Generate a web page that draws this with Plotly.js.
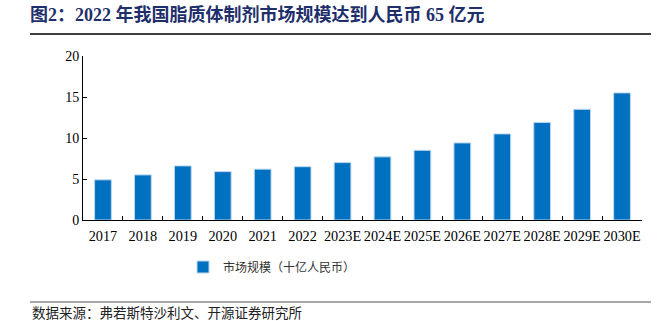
<!DOCTYPE html>
<html>
<head>
<meta charset="utf-8">
<script src="https://cdn.plot.ly/plotly-3.0.1.min.js"></script>
<style>html,body{margin:0;padding:0;background:#fff;}#chart{width:665px;height:321px;}</style>
</head>
<body>
<div id="chart"></div>
<script>
const years = ["2017","2018","2019","2020","2021","2022","2023E","2024E","2025E","2026E","2027E","2028E","2029E","2030E"];
const marketSize = [4.9,5.5,6.6,5.9,6.2,6.5,7.0,7.7,8.5,9.4,10.5,11.9,13.5,15.5];
const seriesName = "市场规模（十亿人民币）";
const titleText = "图2：2022 年我国脂质体制剂市场规模达到人民币 65 亿元";
const sourceText = "数据来源：弗若斯特沙利文、开源证券研究所";

const serif = "'Liberation Serif', 'Times New Roman', 'Noto Sans CJK SC', serif";
const cjk = "'Liberation Serif', 'Noto Sans CJK SC', sans-serif";

const data = [{
  type: "bar",
  x: years,
  y: marketSize,
  name: seriesName,
  marker: {color: "#0070C0", line: {color: "#BDD7EE", width: 1}},
  hoverinfo: "none"
}];

const layout = {
  width: 665, height: 321,
  margin: {l: 83, r: 23, t: 56, b: 101},
  paper_bgcolor: "#fff", plot_bgcolor: "#fff",
  bargap: 0.58,
  showlegend: true,
  title: {
    text: "<b>" + titleText + "</b>",
    font: {family: serif, size: 18, color: "#1F2F6B"},
    xref: "container", yref: "container",
    x: 30/665, xanchor: "left",
    y: 1 - 15/321, yanchor: "middle"
  },
  xaxis: {
    type: "category",
    showline: true, linecolor: "#000", linewidth: 1,
    ticks: "inside", tickson: "boundaries", ticklen: 4, tickcolor: "#000",
    tickangle: 0, ticklabelstandoff: 3,
    tickfont: {family: serif, size: 14.3, color: "#000"},
    showgrid: false, zeroline: false, fixedrange: true
  },
  yaxis: {
    range: [0, 20], dtick: 5,
    showline: true, linecolor: "#000", linewidth: 1,
    ticks: "inside", ticklen: 4, tickcolor: "#000",
    tickfont: {family: serif, size: 14, color: "#000"},
    showgrid: false, zeroline: false, fixedrange: true
  },
  legend: {
    orientation: "h",
    x: (183-83)/559, xanchor: "left",
    y: (220-267)/164, yanchor: "middle",
    itemwidth: 30,
    font: {family: cjk, size: 12, color: "#333"}
  },
  shapes: [
    {type: "line", xref: "paper", yref: "paper", x0: (30-83)/559, x1: (651-83)/559, y0: (220-34)/164, y1: (220-34)/164, line: {color: "#000", width: 1.5}},
    {type: "line", xref: "paper", yref: "paper", x0: (30-83)/559, x1: (651-83)/559, y0: (220-302)/164, y1: (220-302)/164, line: {color: "#888", width: 1.5}}
  ],
  annotations: [
    {text: sourceText, xref: "paper", yref: "paper", x: (30-83)/559, xanchor: "left", y: (220-313.5)/164, yanchor: "middle", showarrow: false, font: {family: cjk, size: 13.5, color: "#222"}}
  ]
};

Plotly.newPlot("chart", data, layout, {displayModeBar: false, staticPlot: true});
</script>
</body>
</html>
